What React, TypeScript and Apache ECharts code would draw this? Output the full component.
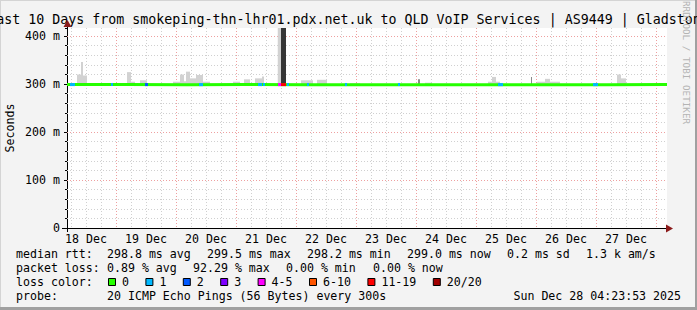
import React, { useEffect, useRef } from 'react';
import * as echarts from 'echarts';

const TITLE = 'Last 10 Days from smokeping-thn-lhr01.pdx.net.uk to QLD VoIP Services | AS9449 | Gladstone';
const DAY_LABELS = ['18 Dec', '19 Dec', '20 Dec', '21 Dec', '22 Dec', '23 Dec', '24 Dec', '25 Dec', '26 Dec', '27 Dec'];
const Y_TICK_VALUES = [0, 100, 200, 300, 400];
const Y_TICK_LABELS = ['0', '100 m', '200 m', '300 m', '400 m'];

// time axis: hours since 18 Dec 00:00 (graph spans 18 Dec 04:24 .. 28 Dec 04:24)
const T_START = 4.4;
const T_END = 244.4;
const Y_MAX = 417;

// median rtt (ms)
const MEDIAN_T = [4.4, 28.4, 52.4, 76.4, 100.4, 124.4, 148.4, 172.4, 196.4, 220.4, 244.4];
const MEDIAN_MS = [299.0, 299.0, 298.8, 299.0, 298.8, 298.8, 298.9, 298.8, 298.8, 298.9, 299.0];

// loss-coloured stretches of the median line
const LOSS_FROM = [5.6, 22.0, 35.6, 57.2, 80.8, 82.8, 88.8, 90.0, 92.4, 100.4, 115.6, 136.8, 176.8, 214.8];
const LOSS_TO = [7.6, 22.8, 36.8, 58.8, 82.4, 83.6, 90.0, 92.0, 93.2, 101.2, 116.4, 137.6, 178.8, 216.8];
const LOSS_CLASS = [1, 1, 2, 1, 1, 1, 4, 6, 1, 1, 1, 1, 1, 1];

const LOSS_COLORS = ['#26ff00', '#00b8ff', '#0059ff', '#7e00ff', '#ff00ff', '#ff5500', '#ff0000', '#a10000'];
const LOSS_LABELS = ['0', '1', '2', '3', '4-5', '6-10', '11-19', '20/20'];

// smoke (ping spread) blocks
const SMOKE_FROM = [8.4, 10.0, 10.8, 28.4, 30.0, 33.6, 46.8, 49.6, 51.2, 52.0, 53.6, 56.0, 58.8, 70.8, 75.2, 79.6, 82.4, 88.7, 90.0, 98.0, 104.4, 117.6, 144.8, 147.6, 172.8, 174.4, 176.0, 190.0, 192.4, 195.6, 197.6, 224.4, 226.0];
const SMOKE_TO = [10.0, 10.8, 12.4, 30.0, 31.6, 36.4, 49.6, 51.2, 52.0, 53.6, 56.0, 58.8, 61.6, 73.6, 77.6, 82.4, 83.2, 90.0, 92.0, 102.8, 108.4, 121.6, 145.6, 150.4, 174.4, 176.0, 177.6, 190.4, 195.6, 197.6, 201.6, 226.0, 228.0];
const SMOKE_HIGH = [320, 346, 318, 325, 305, 308, 305, 320, 306, 326, 312, 319, 305, 305, 310, 312, 316, 417, 417, 308, 309, 302, 310, 303, 305, 315, 305, 315, 305, 311, 305, 320, 312];
const SMOKE_LOW = [296, 296, 296, 296, 296, 296, 296, 296, 296, 296, 296, 296, 296, 296, 296, 296, 296, 296, 296, 296, 296, 296, 296, 296, 296, 296, 296, 296, 296, 296, 296, 296, 296];
const SMOKE_SHADE = [0, 0, 0, 0, 0, 0, 0, 0, 0, 0, 0, 0, 0, 0, 0, 0, 0, 0, 1, 0, 0, 0, 2, 0, 0, 0, 0, 2, 0, 0, 0, 0, 0];
const SHADE_COLORS = ['#d2d2d2', '#363636', '#8a8a8a'];

const LEGEND_RTT = [
  { x: 16, t: 'median rtt:' },
  { x: 107, t: '298.8 ms avg' },
  { x: 207, t: '299.5 ms max' },
  { x: 307, t: '298.2 ms min' },
  { x: 407, t: '299.0 ms now' },
  { x: 507, t: '0.2 ms sd' },
  { x: 586, t: '1.3 k am/s' },
];
const LEGEND_LOSS = [
  { x: 16, t: 'packet loss:' },
  { x: 107, t: '0.89 % avg' },
  { x: 193, t: '92.29 % max' },
  { x: 286, t: '0.00 % min' },
  { x: 373, t: '0.00 % now' },
];
const LOSS_BOX_X = [108, 145.4, 182.8, 220.2, 257.6, 309, 367.4, 432.8];
const PROBE_TEXT = '20 ICMP Echo Pings (56 Bytes) every 300s';
const DATE_TEXT = 'Sun Dec 28 04:23:53 2025';

const MONO = '"DejaVu Sans Mono", monospace';
const FONT = `11.6px ${MONO}`;

export default function App() {
  const ref = useRef<HTMLDivElement>(null);
  useEffect(() => {
    if (!ref.current) return;
    const chart = echarts.init(ref.current, undefined, { renderer: 'svg' });

    const slots: string[] = [];
    for (let i = 0; i <= 600; i++) slots.push(String(i)); // 24-minute steps from start

    const txt = (x: number, y: number, t: string, extra: any = {}) => ({
      type: 'text', x, y, silent: true,
      style: { text: t, fill: '#000', font: FONT, align: 'left', verticalAlign: 'middle', ...extra },
    });

    const graphics: any[] = [
      { type: 'rect', shape: { x: 0, y: 0, width: 697, height: 1 }, style: { fill: '#d4d4d4' } },
      { type: 'rect', shape: { x: 0, y: 0, width: 1, height: 310 }, style: { fill: '#d4d4d4' } },
      { type: 'rect', shape: { x: 695, y: 0, width: 2, height: 310 }, style: { fill: '#a0a0a0' } },
      { type: 'rect', shape: { x: 0, y: 307, width: 697, height: 3 }, style: { fill: '#a0a0a0' } },
      txt(348.5, 19, TITLE, { align: 'center', font: `13.3px ${MONO}` }),
      { type: 'text', x: 686.5, y: 1, rotation: -Math.PI / 2, silent: true,
        style: { text: 'RRDTOOL / TOBI OETIKER', fill: '#b4b4b4', font: `9.3px ${MONO}`, align: 'left', verticalAlign: 'middle' } },
      { type: 'text', x: 10, y: 128, rotation: Math.PI / 2, silent: true,
        style: { text: 'Seconds', fill: '#000', font: FONT, align: 'center', verticalAlign: 'middle' } },
      { type: 'line', shape: { x1: 62, y1: 228.5, x2: 668, y2: 228.5 }, style: { stroke: '#000', lineWidth: 1 } },
      { type: 'line', shape: { x1: 67.5, y1: 232, x2: 67.5, y2: 26 }, style: { stroke: '#000', lineWidth: 1 } },
      { type: 'polygon', shape: { points: [[666, 224.5], [673, 228.5], [666, 232.5]] }, style: { fill: '#8b1a1a' } },
      { type: 'polygon', shape: { points: [[63.5, 27], [67.5, 20], [71.5, 27]] }, style: { fill: '#8b1a1a' } },
    ];
    LEGEND_RTT.forEach((l) => graphics.push(txt(l.x, 254, l.t)));
    LEGEND_LOSS.forEach((l) => graphics.push(txt(l.x, 268, l.t)));
    graphics.push(txt(16, 282, 'loss color:'));
    LOSS_BOX_X.forEach((bx, i) => {
      graphics.push({ type: 'rect', shape: { x: bx + 0.5, y: 278.5, width: 7, height: 7 }, style: { fill: LOSS_COLORS[i], stroke: '#000', lineWidth: 1 } });
      graphics.push(txt(bx + 14, 282, LOSS_LABELS[i]));
    });
    graphics.push(txt(16, 296, 'probe:'));
    graphics.push(txt(107, 296, PROBE_TEXT));
    graphics.push(txt(681, 296, DATE_TEXT, { align: 'right' }));

    const yLabel = (v: number) => {
      const k = Y_TICK_VALUES.indexOf(v);
      return k >= 0 ? Y_TICK_LABELS[k] : '';
    };

    chart.setOption({
      animation: false,
      backgroundColor: '#f3f3f3',
      grid: { left: 67, top: 28, width: 600, height: 200, show: true, backgroundColor: '#ffffff', borderWidth: 0 },
      xAxis: [
        {
          type: 'category', data: slots, boundaryGap: false, position: 'bottom',
          axisLine: { show: false }, axisTick: { show: false },
          axisLabel: {
            interval: (i: number) => (i - 19) % 60 === 0,
            formatter: (_v: string, i: number) => DAY_LABELS[(i - 19) / 60] ?? '',
            fontFamily: MONO, fontSize: 11.6, color: '#000', margin: 5,
          },
          splitLine: { show: true, interval: (i: number) => i % 15 === 4 && i % 60 !== 49, lineStyle: { color: '#d0d0d0', type: [1, 2], width: 1 } },
        },
        {
          type: 'category', data: slots, boundaryGap: false, position: 'bottom',
          axisLine: { show: false }, axisTick: { show: false }, axisLabel: { show: false },
          splitLine: { show: true, interval: (i: number) => i % 60 === 49, lineStyle: { color: '#eea0a0', type: [1, 2], width: 1 } },
        },
        { type: 'value', min: T_START, max: T_END, show: false },
      ],
      yAxis: [
        {
          type: 'value', min: 0, max: Y_MAX, interval: 20, position: 'left',
          axisLine: { show: false }, axisTick: { show: true, length: 2, lineStyle: { color: '#000' } }, axisLabel: { show: false },
          splitLine: { show: true, showMaxLine: false, showMinLine: false, lineStyle: { color: '#d0d0d0', type: [1, 2], width: 1 } },
        },
        {
          type: 'value', min: 0, max: Y_MAX, interval: 100, position: 'left',
          axisLine: { show: false }, axisTick: { show: true, length: 3, lineStyle: { color: '#000' } },
          axisLabel: { formatter: yLabel, showMaxLabel: false, margin: 7, fontFamily: MONO, fontSize: 11.6, color: '#000' },
          splitLine: { show: true, showMaxLine: false, showMinLine: false, lineStyle: { color: '#eea0a0', type: [1, 2], width: 1 } },
        },
      ],
      graphic: graphics,
      series: [
        {
          type: 'custom', xAxisIndex: 2, yAxisIndex: 1, clip: true, z: 2,
          data: SMOKE_FROM.map((f, i) => [f, SMOKE_TO[i], SMOKE_LOW[i], SMOKE_HIGH[i], SMOKE_SHADE[i]]),
          encode: { x: [0, 1], y: [2, 3] },
          renderItem: (_p: any, api: any) => {
            const a = api.coord([api.value(0), api.value(3)]);
            const b = api.coord([api.value(1), api.value(2)]);
            return { type: 'rect', shape: { x: a[0], y: a[1], width: b[0] - a[0], height: b[1] - a[1] }, style: { fill: SHADE_COLORS[api.value(4)] } };
          },
        },
        {
          type: 'line', xAxisIndex: 2, yAxisIndex: 1, symbol: 'none', silent: true, z: 3,
          data: MEDIAN_T.map((t, i) => [t, MEDIAN_MS[i]]),
          lineStyle: { color: LOSS_COLORS[0], width: 3 },
        },
        {
          type: 'custom', xAxisIndex: 2, yAxisIndex: 1, clip: true, z: 5,
          data: LOSS_FROM.map((f, i) => [f, LOSS_TO[i], 299, LOSS_CLASS[i]]),
          dimensions: ['from', 'to', 'ms', 'cls'],
          encode: { x: [0, 1], y: 2 },
          renderItem: (_p: any, api: any) => {
            const a = api.coord([api.value(0), api.value(2)]);
            const b = api.coord([api.value(1), api.value(2)]);
            return { type: 'rect', z2: 10, shape: { x: a[0], y: a[1] - 1.5, width: Math.max(1, b[0] - a[0]), height: 3 }, style: { fill: LOSS_COLORS[api.value(3)] } };
          },
        },
      ],
    });
    return () => chart.dispose();
  }, []);
  return <div ref={ref} style={{ position: 'absolute', left: 0, top: 0, width: 697, height: 310 }} />;
}
